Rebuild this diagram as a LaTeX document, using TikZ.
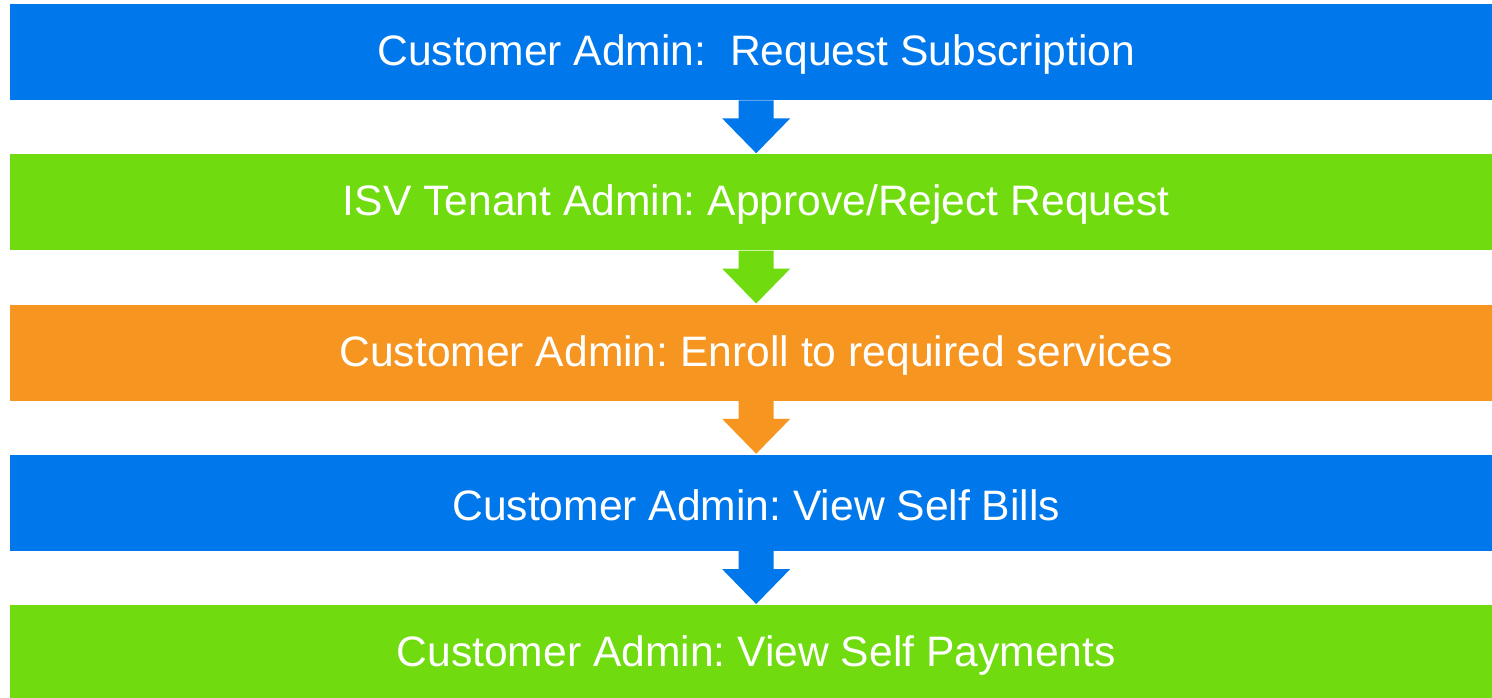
\documentclass[tikz,border=0pt]{standalone}
\usepackage{fontspec}
\setmainfont{Liberation Sans}
\usetikzlibrary{calc}
\frenchspacing
\definecolor{cblue}{RGB}{0,120,235}
\definecolor{cgreen}{RGB}{112,219,14}
\definecolor{corange}{RGB}{246,150,33}
\newcommand{\boxtext}[1]{\raisebox{-2.5pt}[\height][\depth]{#1}}
\tikzset{
  stepbox/.style={rectangle, draw=none, minimum width=1492pt, minimum height=96pt, inner sep=0pt, anchor=north west, text=white, font=\fontsize{42.6}{50}\selectfont},
}
\newcommand{\flowarrow}[3]{%
  \fill[#3] ($(#1.south)+(-17.5pt,0)$) -- ($(#1.south)+(17.5pt,0)$) -- ($(#1.south)+(17.5pt,-18pt)$) -- ($(#1.south)+(34pt,-18pt)$) -- ($(#2.north)+(0,1pt)$) -- ($(#1.south)+(-34pt,-18pt)$) -- ($(#1.south)+(-17.5pt,-18pt)$) -- cycle;}
\begin{document}
\begin{tikzpicture}[x=1pt,y=-1pt]
\useasboundingbox (0,0) rectangle (1492,698);
\begin{scope}
\clip (0,0) rectangle (1492,698);
\node[stepbox, fill=cblue] (b1) at (10,4) {\boxtext{Customer Admin:\ \ Request Subscription}};
\node[stepbox, fill=cgreen] (b2) at (10,154.25) {\boxtext{ISV Tenant Admin: Approve/Reject Request}};
\node[stepbox, fill=corange] (b3) at (10,304.5) {\boxtext{Customer Admin: Enroll to required services}};
\node[stepbox, fill=cblue] (b4) at (10,454.75) {\boxtext{Customer Admin: View Self Bills}};
\node[stepbox, fill=cgreen] (b5) at (10,605) {\boxtext{Customer Admin: View Self Payments}};
\flowarrow{b1}{b2}{cblue}
\flowarrow{b2}{b3}{cgreen}
\flowarrow{b3}{b4}{corange}
\flowarrow{b4}{b5}{cblue}
\end{scope}
\end{tikzpicture}
\end{document}
